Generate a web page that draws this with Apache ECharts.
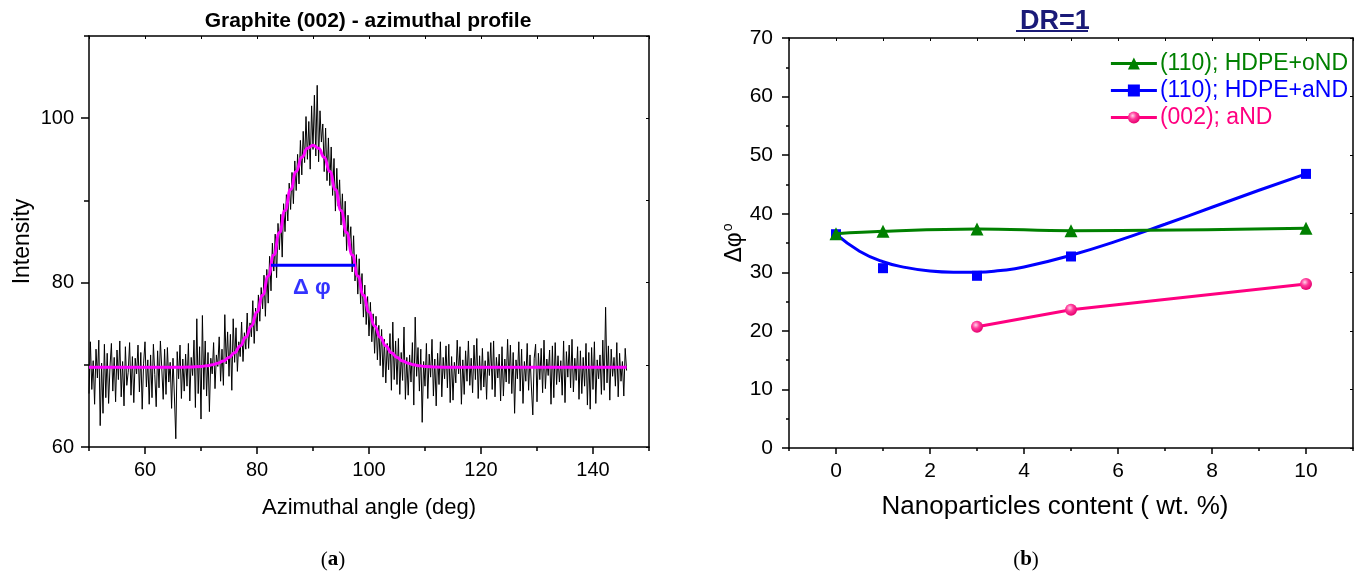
<!DOCTYPE html>
<html><head><meta charset="utf-8">
<script src="https://cdn.jsdelivr.net/npm/echarts@6/dist/echarts.min.js"></script>
<style>html,body{margin:0;padding:0;background:#fff}#c{width:1357px;height:573px}</style>
</head><body><div id="c"></div>
<script>
const FONT = "'Liberation Sans', Arial, sans-serif";

// ---------- (a) Graphite (002) azimuthal profile ----------
const angleStart = 50;
const angleStep = 0.25;
const intensity = [
66.5,72.8,67.0,70.5, 65.2,71.9,68.4,73.0, 62.6,70.2,64.1,72.5, 66.0,71.4,65.3,69.8,
72.6,66.8,70.9,65.5, 71.8,68.2,72.9,66.1, 70.4,65.0,72.2,67.5, 69.1,72.7,66.3,71.0,
65.4,70.8,68.9,72.4, 66.7,71.5,64.6,70.2, 72.8,67.3,70.6,65.2, 71.2,66.0,72.5,68.8,
64.9,71.7,67.2,72.9, 69.5,65.8,71.9,66.4, 72.1,67.9,70.3,64.7, 70.8,66.2,61.0,71.6,
68.3,72.4,65.9,70.7, 66.8,71.3,67.4,72.6, 65.6,70.9,68.7,73.0, 64.8,75.6,66.5,72.2,
63.4,76.0,67.0,72.9, 66.2,71.5,64.3,70.8, 68.9,72.7,67.1,71.2, 69.8,73.4,68.0,71.9,
67.5,76.1,70.1,74.0, 68.6,73.7,66.9,75.6, 70.3,74.5,69.2,72.8, 71.0,75.2,70.4,73.9,
71.9,76.3,72.0,75.1, 73.4,77.8,72.6,76.9, 74.1,78.5,75.3,79.4, 76.8,80.9,75.9,81.6,
77.5,83.2,79.0,84.8, 81.4,85.9,80.6,87.2, 84.0,88.3,83.1,89.6, 86.2,90.7,87.5,92.1,
88.9,93.4,89.6,94.8, 91.2,95.6,92.0,97.3, 93.1,98.4,94.6,100.2, 95.0,99.6,93.8,101.5,
96.2,102.8,95.4,104.0, 94.7,100.9,97.1,99.3, 93.5,98.8,92.4,97.6, 91.8,96.5,90.6,95.1,
88.7,93.9,89.3,92.5, 87.0,90.8,85.6,89.9, 83.9,88.2,84.5,86.8, 81.3,85.7,80.2,83.4,
78.6,82.9,77.4,81.1, 75.8,79.7,74.9,78.3, 73.5,77.6,72.8,76.2, 71.4,75.9,70.6,74.8,
69.9,74.3,68.5,73.1, 67.8,72.6,69.4,73.8, 66.9,75.2,68.2,72.9, 67.6,73.2,66.4,71.5,
68.1,74.6,65.8,70.9, 66.3,71.2,67.9,72.7, 65.1,75.8,68.6,72.1, 66.8,71.9,63.0,70.4,
67.4,72.6,65.9,71.3, 68.5,73.1,66.2,70.7, 65.0,71.4,67.6,72.8, 66.1,70.9,68.3,72.3,
67.2,72.5,65.4,71.0, 65.7,70.3,67.8,73.0, 68.9,72.2,65.2,70.6, 66.4,71.7,68.0,72.9,
67.5,70.8,66.6,72.4, 68.2,73.2,65.9,71.1, 66.9,72.0,67.3,70.5, 65.8,71.6,68.7,72.7,
67.0,72.9,66.1,70.9, 68.4,71.3,65.6,72.2, 66.2,70.7,67.9,73.1, 67.7,72.4,66.5,71.5,
64.1,70.6,68.3,72.8, 66.8,71.9,65.3,70.4, 68.0,72.6,66.9,71.2, 67.3,63.9,70.8,72.5,
65.5,71.4,68.2,72.0, 66.6,73.0,67.1,70.7, 68.7,71.8,65.2,72.3, 66.0,72.7,67.6,71.1,
67.9,70.5,66.3,72.9, 65.4,71.6,68.5,72.4, 67.2,73.1,66.7,70.8, 68.1,72.2,65.8,71.7,
66.5,70.9,67.4,72.6, 65.1,71.5,64.6,72.1, 67.0,72.8,65.3,70.6, 68.3,71.2,66.4,73.0,
66.9,77.0,67.8,72.3, 65.7,71.9,68.6,70.9, 67.4,72.7,66.1,71.4, 68.0,70.4,66.2,72.0,
69.3
];
const fitAngles = [50,55,60,65,68,70,71,72,73,74,75,76,77,78,79,80,81,82,83,84,85,86,87,88,89,90,
  91,92,93,94,95,96,97,98,99,100,101,102,103,104,105,106,107,108,109,110,112,115,120,125,130,135,140,146];
const fitValues = [69.7,69.7,69.7,69.7,69.72,69.8,69.88,70.0,70.19,70.47,70.89,71.47,72.28,73.35,74.73,76.43,
  78.47,80.8,83.37,86.08,88.78,91.32,93.53,95.24,96.33,96.7,
  96.33,95.24,93.53,91.32,88.78,86.08,83.37,80.8,78.47,76.43,74.73,73.35,72.28,71.47,70.89,70.47,70.19,70.0,69.88,69.8,
  69.72,69.7,69.7,69.7,69.7,69.7,69.7,69.7];
const deltaPhiLevel = 82.1, deltaPhiFrom = 82.5, deltaPhiTo = 97.5;
const deltaPhiText = 'Δ φ', deltaPhiTextAt = [89.8, 79.4];
const leftXTicks = [60, 80, 100, 120, 140];
const leftYTicks = [60, 80, 100];

// ---------- (b) DR=1 ----------
const contentOND = [0, 1, 3, 5, 10];
const hdpeOND = [36.6, 37.0, 37.4, 37.1, 37.5];
const contentAND = [0, 1, 3, 5, 10];
const hdpeAND = [36.5, 30.7, 29.4, 32.7, 46.8];
const fitContentAND = [0, 0.5, 1, 1.5, 2, 2.5, 3, 3.5, 4, 5, 6, 7, 8, 9, 10];
const fitHdpeAND = [36.5, 33.6, 31.8, 30.8, 30.2, 30.0, 30.0, 30.3, 30.9, 32.9, 35.4, 38.2, 41.1, 44.0, 46.8];
const contentGraphite = [3, 5, 10];
const graphiteAND = [20.7, 23.6, 28.0];
const rightXTicks = [0, 2, 4, 6, 8, 10];
const seriesNames = ['(110); HDPE+oND', '(110); HDPE+aND', '(002); aND'];

const GREEN = '#008000', BLUE = '#0000ff', PINK = '#ff0080';
const pairs = (xs, ys) => xs.map((x, i) => [x, ys[i]]);
const axisLine = { show: true, onZero: false, lineStyle: { color: '#000', width: 1.5 } };
const noLine = { show: false, onZero: false };
const lbl = (extra) => Object.assign({ color: '#000', fontSize: 20, fontFamily: FONT }, extra);

const chart = echarts.init(document.getElementById('c'), null, { renderer: 'canvas' });
chart.setOption({
  animation: false,
  backgroundColor: '#fff',
  title: [
    { text: 'Graphite (002) - azimuthal profile', left: 363, top: 6, textAlign: 'center',
      textStyle: { fontFamily: FONT, fontSize: 21, fontWeight: 'bold', color: '#000' } },
    { text: 'DR=1', left: 1050, top: 3, textAlign: 'center',
      textStyle: { fontFamily: FONT, fontSize: 27, fontWeight: 'bold', color: '#1a1a78' } }
  ],
  graphic: [
    { type: 'line', shape: { x1: 1016, y1: 31, x2: 1088, y2: 31 }, style: { stroke: '#1a1a78', lineWidth: 2 } },
    { type: 'text', x: 333, y: 560, style: { text: '{p|(}{b|a}{p|)}', align: 'center', verticalAlign: 'middle',
      rich: { p: { fontFamily: "'Liberation Serif', serif", fontSize: 21, fill: '#000' },
              b: { fontFamily: "'Liberation Serif', serif", fontSize: 21, fontWeight: 'bold', fill: '#000' } } } },
    { type: 'text', x: 1026, y: 560, style: { text: '{p|(}{b|b}{p|)}', align: 'center', verticalAlign: 'middle',
      rich: { p: { fontFamily: "'Liberation Serif', serif", fontSize: 21, fill: '#000' },
              b: { fontFamily: "'Liberation Serif', serif", fontSize: 21, fontWeight: 'bold', fill: '#000' } } } }
  ],
  grid: [
    { left: 89, right: 708, top: 36, bottom: 126, containLabel: false },
    { left: 789, right: 4, top: 38, bottom: 125, containLabel: false }
  ],
  legend: {
    data: [
      { name: seriesNames[0], textStyle: { color: GREEN } },
      { name: seriesNames[1], textStyle: { color: BLUE } },
      { name: seriesNames[2], textStyle: { color: PINK } }
    ],
    orient: 'vertical', right: 9, top: 52, itemWidth: 46, itemHeight: 15, itemGap: 4,
    lineStyle: { width: 3 },
    textStyle: { fontFamily: FONT, fontSize: 23, lineHeight: 20, padding: [0, 0, 0, -2] }, padding: 0
  },
  xAxis: [
    { gridIndex: 0, type: 'value', position: 'bottom', min: 50, max: 150, interval: 10,
      axisLine, axisTick: { show: true, length: 4, lineStyle: { color: '#000', width: 1.5 } },
      axisLabel: lbl({ customValues: leftXTicks, margin: 13 }), splitLine: { show: false },
      name: 'Azimuthal angle (deg)', nameLocation: 'middle', nameGap: 50,
      nameTextStyle: { color: '#000', fontSize: 22, fontFamily: FONT } },
    { gridIndex: 0, type: 'value', position: 'bottom', min: 50, max: 150,
      axisLine: noLine, axisTick: { show: true, customValues: leftXTicks, length: 7, lineStyle: { color: '#000', width: 1.5 } },
      axisLabel: { show: false }, splitLine: { show: false } },
    { gridIndex: 0, type: 'value', position: 'top', min: 50, max: 150, interval: 10,
      axisLine, axisTick: { show: true, inside: true, length: 3, lineStyle: { color: '#000' } },
      axisLabel: { show: false }, splitLine: { show: false } },
    { gridIndex: 1, type: 'value', position: 'bottom', min: -1, max: 11, interval: 1,
      axisLine, axisTick: { show: true, length: 3, lineStyle: { color: '#000', width: 1.5 } },
      axisLabel: lbl({ customValues: rightXTicks, margin: 13, fontSize: 21 }), splitLine: { show: false },
      name: 'Nanoparticles content ( wt. %)', nameLocation: 'middle', nameGap: 46,
      nameTextStyle: { color: '#000', fontSize: 26, fontFamily: FONT, padding: [0, 32, 0, 0] } },
    { gridIndex: 1, type: 'value', position: 'bottom', min: -1, max: 11,
      axisLine: noLine, axisTick: { show: true, customValues: rightXTicks, length: 6, lineStyle: { color: '#000', width: 1.5 } },
      axisLabel: { show: false }, splitLine: { show: false } },
    { gridIndex: 1, type: 'value', position: 'top', min: -1, max: 11, interval: 1,
      axisLine, axisTick: { show: true, inside: true, length: 3, lineStyle: { color: '#000' } },
      axisLabel: { show: false }, splitLine: { show: false } }
  ],
  yAxis: [
    { gridIndex: 0, type: 'value', position: 'left', min: 60, max: 110, interval: 10,
      axisLine, axisTick: { show: true, length: 5, lineStyle: { color: '#000', width: 1.5 } },
      axisLabel: lbl({ customValues: leftYTicks, margin: 15 }), splitLine: { show: false },
      name: 'Intensity', nameLocation: 'middle', nameGap: 55, nameRotate: 90,
      nameTextStyle: { color: '#000', fontSize: 23, fontFamily: FONT } },
    { gridIndex: 0, type: 'value', position: 'left', min: 60, max: 110,
      axisLine: noLine, axisTick: { show: true, customValues: leftYTicks, length: 8, lineStyle: { color: '#000', width: 1.5 } },
      axisLabel: { show: false }, splitLine: { show: false } },
    { gridIndex: 0, type: 'value', position: 'right', min: 60, max: 110, interval: 10,
      axisLine, axisTick: { show: true, inside: true, length: 3, lineStyle: { color: '#000' } },
      axisLabel: { show: false }, splitLine: { show: false } },
    { gridIndex: 1, type: 'value', position: 'left', min: 0, max: 70, interval: 10,
      axisLine, axisTick: { show: true, length: 7, lineStyle: { color: '#000', width: 1.5 } },
      minorTick: { show: true, splitNumber: 2, length: 3, lineStyle: { color: '#000', width: 1.5 } },
      axisLabel: lbl({ margin: 16, fontSize: 21 }), splitLine: { show: false }, minorSplitLine: { show: false },
      name: '{a|Δφ}{b|o}', nameLocation: 'middle', nameGap: 41, nameRotate: 90,
      nameTextStyle: { color: '#000', fontFamily: FONT,
        rich: { a: { fontSize: 23, fontFamily: FONT, color: '#000' },
                b: { fontSize: 14, fontFamily: FONT, color: '#000', verticalAlign: 'top', padding: [0, 0, 12, 1] } } } },
    { gridIndex: 1, type: 'value', position: 'right', min: 0, max: 70, interval: 10,
      axisLine, axisTick: { show: true, inside: true, length: 3, lineStyle: { color: '#000' } },
      axisLabel: { show: false }, splitLine: { show: false } }
  ],
  series: [
    { type: 'line', xAxisIndex: 0, yAxisIndex: 0, data: intensity.map((v, i) => [angleStart + i * angleStep, v]),
      symbol: 'none', lineStyle: { color: '#000', width: 1 }, silent: true, z: 2 },
    { type: 'line', xAxisIndex: 0, yAxisIndex: 0, data: pairs(fitAngles, fitValues), smooth: true, smoothMonotone: 'x',
      symbol: 'none', lineStyle: { color: '#ff00ff', width: 3 }, silent: true, z: 3 },
    { type: 'line', xAxisIndex: 0, yAxisIndex: 0, data: [[deltaPhiFrom, deltaPhiLevel], [deltaPhiTo, deltaPhiLevel]],
      symbol: 'none', lineStyle: { color: '#0000ff', width: 3 }, silent: true, z: 4 },
    { type: 'scatter', xAxisIndex: 0, yAxisIndex: 0, data: [deltaPhiTextAt], symbolSize: 0, silent: true, z: 5,
      label: { show: true, position: 'inside', formatter: deltaPhiText, color: '#0000ff', fontSize: 22, fontWeight: 'bold', fontFamily: FONT } },

    { name: seriesNames[0], type: 'line', xAxisIndex: 3, yAxisIndex: 3, data: pairs(contentOND, hdpeOND),
      smooth: 0.4, symbol: 'triangle', symbolSize: 13, color: GREEN,
      lineStyle: { color: GREEN, width: 3 }, itemStyle: { color: GREEN }, z: 5 },
    { name: seriesNames[1], type: 'line', xAxisIndex: 3, yAxisIndex: 3, data: pairs(fitContentAND, fitHdpeAND),
      smooth: true, symbol: 'rect', symbolSize: 10, showSymbol: false, color: BLUE,
      lineStyle: { color: BLUE, width: 3 }, itemStyle: { color: BLUE }, z: 2 },
    { name: 'aND markers', type: 'scatter', xAxisIndex: 3, yAxisIndex: 3, data: pairs(contentAND, hdpeAND),
      symbol: 'rect', symbolSize: 10, itemStyle: { color: BLUE, opacity: 1 }, z: 4 },
    { name: seriesNames[2], type: 'line', xAxisIndex: 3, yAxisIndex: 3, data: pairs(contentGraphite, graphiteAND),
      symbol: 'circle', symbolSize: 12, color: PINK, lineStyle: { color: PINK, width: 3 },
      itemStyle: { color: { type: 'radial', x: 0.4, y: 0.35, r: 0.65,
        colorStops: [{ offset: 0, color: '#ffd6ea' }, { offset: 0.45, color: '#ff3a9a' }, { offset: 1, color: '#e6006f' }] } },
      z: 3 }
  ]
});
</script></body></html>
